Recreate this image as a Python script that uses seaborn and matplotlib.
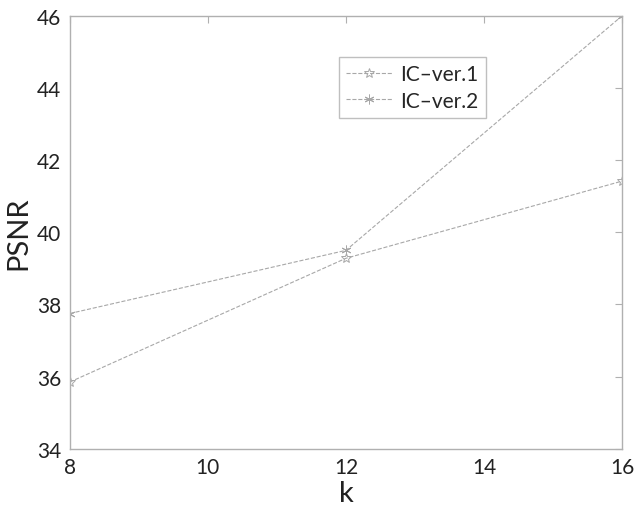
import pandas as pd
import numpy as np
import seaborn as sns
import matplotlib
matplotlib.use("Agg")
import matplotlib.pyplot as plt

k = [8, 12, 16]
ver1 = [35.85, 39.28, 41.42]
ver2 = [37.75, 39.5, 46.0]

sns.set_style("white")
plt.rcParams['font.family'] = ['Lato', 'DejaVu Sans']

df = pd.DataFrame({'k': k + k,
                   'PSNR': ver1 + ver2,
                   'series': ['IC-ver.1'] * 3 + ['IC-ver.2'] * 3})

fig = plt.figure(figsize=(6.4, 5.1), dpi=100)
ax = fig.add_axes([0.109, 0.118, 0.863, 0.849])

col = '#a8a8a8'
sns.lineplot(ax=ax, data=df[df.series == 'IC-ver.1'], x='k', y='PSNR',
             label='IC–ver.1', color=col, lw=0.8, linestyle='--',
             marker='*', markersize=7, markerfacecolor='none',
             markeredgecolor=col, markeredgewidth=0.7)
sns.lineplot(ax=ax, data=df[df.series == 'IC-ver.2'], x='k', y='PSNR',
             label='IC–ver.2', color=col, lw=0.8, linestyle='--',
             marker=(6, 2, 0), markersize=7,
             markeredgecolor=col, markeredgewidth=0.7)

ax.set_xlim(8, 16)
ax.set_ylim(34, 46)
ax.set_xticks([8, 10, 12, 14, 16])
ax.set_yticks([34, 36, 38, 40, 42, 44, 46])
ax.tick_params(direction='in', length=5, color='#b0b0b0', labelsize=15,
               labelcolor='#222222', top=True, right=True, pad=6)
for s in ax.spines.values():
    s.set_color('#b0b0b0')
    s.set_linewidth(1)
ax.set_xlabel('k', fontsize=21, labelpad=2, color='#222222')
ax.set_ylabel('PSNR', fontsize=21, labelpad=4, color='#222222')

leg = ax.legend(loc='upper left', bbox_to_anchor=(0.487, 0.905), fontsize=15,
                frameon=True, fancybox=False, handlelength=2.2,
                borderpad=0.35, labelspacing=0.3, handletextpad=0.4,
                borderaxespad=0)
leg.get_frame().set_edgecolor('#b0b0b0')
leg.get_frame().set_linewidth(1)

fig.savefig('out.png', dpi=100)
